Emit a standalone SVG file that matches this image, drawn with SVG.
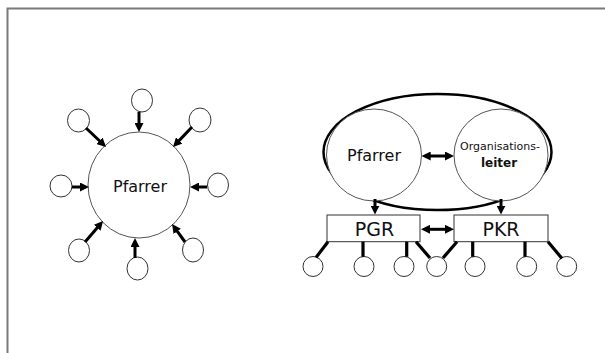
<svg xmlns="http://www.w3.org/2000/svg" width="605" height="353" viewBox="0 0 605 353">
<style>
.bg{fill:#fff}
.frame{fill:none;stroke:#7a7a7a;stroke-width:2}
.small{fill:#fff;stroke:#333;stroke-width:1}
.big{fill:#fff;stroke:#555;stroke-width:1}
.outer{fill:#fff;stroke:#000;stroke-width:2.5}
.box{fill:#fff;stroke:#333;stroke-width:1}
.arr{fill:none;stroke:#000;stroke-width:3;marker-end:url(#ah)}
.darr{fill:none;stroke:#000;stroke-width:3;marker-end:url(#ah);marker-start:url(#ah)}
.con{fill:none;stroke:#000;stroke-width:3.2}
text{font-family:"DejaVu Sans","Liberation Sans",sans-serif;fill:#111;text-anchor:middle}
</style>
<defs>
<marker id="ah" viewBox="0 0 10 10" refX="6" refY="5" markerWidth="9" markerHeight="9" markerUnits="userSpaceOnUse" orient="auto-start-reverse">
<path d="M0,0 L10,5 L0,10 z" fill="#000"/>
</marker>
</defs>
<rect class="bg" x="0" y="0" width="605" height="353"/>
<path class="frame" d="M7.5,353 V8.5 H605"/>

<g id="left-center">
<ellipse class="big" cx="139" cy="185" rx="51" ry="53"/>
<text x="140" y="192" font-size="16">Pfarrer</text>
</g>
<g id="left-top"><ellipse class="small" cx="142" cy="100.5" rx="10.5" ry="11.5"/></g>
<g id="left-topleft"><ellipse class="small" cx="78.5" cy="120.5" rx="11" ry="11.5"/></g>
<g id="left-topright"><ellipse class="small" cx="200" cy="120" rx="11" ry="12"/></g>
<g id="left-left"><ellipse class="small" cx="61" cy="186" rx="11" ry="11"/></g>
<g id="left-right"><ellipse class="small" cx="218" cy="185" rx="10.5" ry="12"/></g>
<g id="left-bottomleft"><ellipse class="small" cx="79" cy="250.5" rx="10.5" ry="11.5"/></g>
<g id="left-bottomright"><ellipse class="small" cx="193" cy="250" rx="10.5" ry="12"/></g>
<g id="left-bottom"><ellipse class="small" cx="137.5" cy="268.5" rx="10.5" ry="11.5"/></g>

<g id="right-outer"><ellipse class="outer" cx="437.5" cy="152" rx="114" ry="58"/></g>
<g id="right-pfarrer">
<ellipse class="big" cx="374" cy="155" rx="47.5" ry="46"/>
<text x="374" y="161" font-size="16">Pfarrer</text>
</g>
<g id="right-orgleiter">
<ellipse class="big" cx="501" cy="155" rx="47" ry="46"/>
<text x="500" y="150" font-size="11">Organisations-</text>
<text x="499" y="167" font-size="12" font-weight="bold">leiter</text>
</g>
<g id="pgr">
<rect class="box" x="327" y="215" width="93" height="26.7"/>
<text x="374.5" y="236" font-size="19">PGR</text>
</g>
<g id="pkr">
<rect class="box" x="454" y="215" width="94" height="26.7"/>
<text x="501" y="236" font-size="19">PKR</text>
</g>
<g id="r-c1"><ellipse class="small" cx="313" cy="266.5" rx="10" ry="10"/></g>
<g id="r-c2"><ellipse class="small" cx="364" cy="266.5" rx="10" ry="10"/></g>
<g id="r-c3"><ellipse class="small" cx="404" cy="266.5" rx="10" ry="10"/></g>
<g id="r-c4"><ellipse class="small" cx="436.7" cy="266.5" rx="10" ry="10"/></g>
<g id="r-c5"><ellipse class="small" cx="475" cy="266.5" rx="10" ry="10"/></g>
<g id="r-c6"><ellipse class="small" cx="526.7" cy="266.5" rx="10" ry="10"/></g>
<g id="r-c7"><ellipse class="small" cx="566.7" cy="266.5" rx="10" ry="10"/></g>

<g id="connectors">
<line class="arr" x1="139" y1="112" x2="139" y2="128.4"/>
<line class="arr" x1="86" y1="128" x2="103.4" y2="144.5"/>
<line class="arr" x1="192" y1="127" x2="175.5" y2="144.4"/>
<line class="arr" x1="72" y1="187" x2="85.4" y2="187"/>
<line class="arr" x1="207" y1="187" x2="193.6" y2="187"/>
<line class="arr" x1="85" y1="242" x2="100.7" y2="223.7"/>
<line class="arr" x1="185" y1="242" x2="174.1" y2="226.9"/>
<line class="arr" x1="135" y1="258" x2="135" y2="241.6"/>
<line class="darr" x1="425.3" y1="156" x2="450.4" y2="156"/>
<line class="arr" x1="375" y1="199" x2="375" y2="211"/>
<line class="arr" x1="501" y1="199" x2="501" y2="211"/>
<line class="darr" x1="424.6" y1="229.3" x2="450.4" y2="229.3"/>
<line class="con" x1="328" y1="241.7" x2="316" y2="257.5"/>
<line class="con" x1="363" y1="241.7" x2="363" y2="256.8"/>
<line class="con" x1="406.7" y1="241.7" x2="406.7" y2="256.8"/>
<line class="con" x1="416" y1="241.7" x2="430" y2="258"/>
<line class="con" x1="457" y1="241.7" x2="443" y2="258"/>
<line class="con" x1="472.7" y1="241.7" x2="472.7" y2="256.8"/>
<line class="con" x1="525" y1="241.7" x2="525" y2="256.8"/>
<line class="con" x1="548" y1="241.7" x2="562" y2="258.5"/>
</g>
</svg>
